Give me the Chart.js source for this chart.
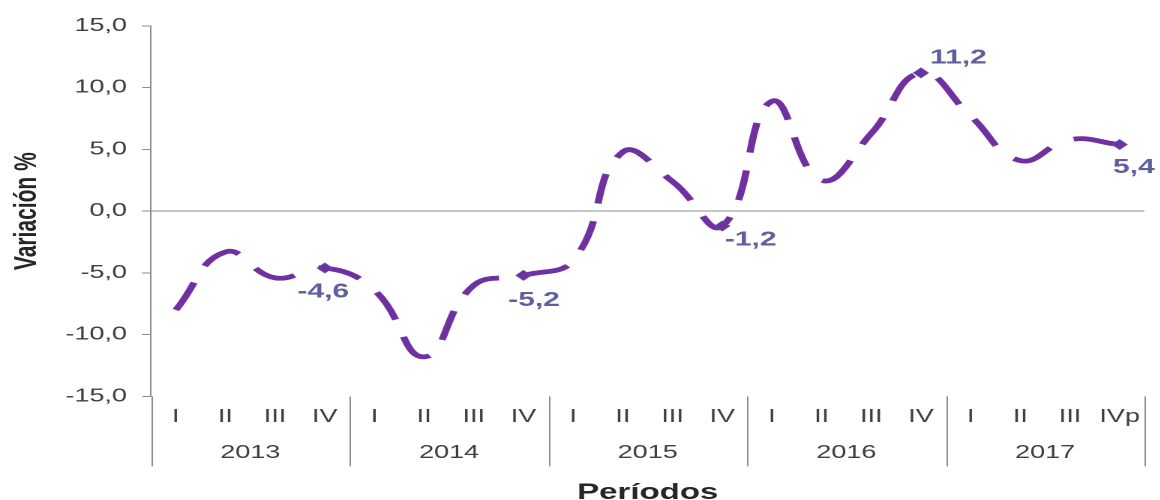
<!DOCTYPE html>
<html>
<head>
<meta charset="utf-8">
<script src="https://cdn.jsdelivr.net/npm/chart.js@4.4.1/dist/chart.umd.min.js"></script>
<style>
  html, body { margin: 0; padding: 0; background: #ffffff; overflow: hidden; }
  #wrap { width: 773px; height: 500px; transform: scaleX(1.5); transform-origin: 0 0; }
</style>
</head>
<body>
<div id="wrap"><canvas id="c" width="773" height="500"></canvas></div>
<script>
// ---- data ----
const quarters = ['I','II','III','IV','I','II','III','IV','I','II','III','IV','I','II','III','IV','I','II','III','IVp'];
const years = ['2013','2014','2015','2016','2017'];
const variation = [-8.0, -3.3, -5.4, -4.6, -6.4, -11.8, -6.0, -5.2, -4.0, 4.8, 2.4, -1.2, 8.9, 2.5, 6.3, 11.2, 7.7, 4.1, 5.8, 5.4];
const yTicks = [-15, -10, -5, 0, 5, 10, 15];

const fmt = v => v.toFixed(1).replace('.', ',');
const isLabeled = i => quarters[i].startsWith('IV');

const LINE = '#7030A0';
const LABEL = '#5F5F9B';
const TEXT = '#404040';
const AXIS = '#8c8c8c';

const labelOffsets = [[-1, 24], [7, 25], [19, 14], [25, -15], [9.5, 23]];

const yearSeparators = {
  id: 'yearSeparators',
  afterDraw(chart) {
    const x = chart.scales.x;
    const area = chart.chartArea;
    const ctx = chart.ctx;
    ctx.save();
    ctx.strokeStyle = AXIS;
    ctx.lineWidth = 1;
    for (let k = 0; k <= years.length; k++) {
      const px = Math.round(x.getPixelForValue(4 * k - 0.5)) + 0.5;
      ctx.beginPath();
      ctx.moveTo(px, area.bottom);
      ctx.lineTo(px, area.bottom + 70);
      ctx.stroke();
    }
    ctx.restore();
  }
};

const pointLabels = {
  id: 'pointLabels',
  afterDatasetsDraw(chart) {
    const meta = chart.getDatasetMeta(0);
    const ctx = chart.ctx;
    ctx.save();
    ctx.font = 'bold 20px "Liberation Sans", Arial, sans-serif';
    ctx.fillStyle = LABEL;
    ctx.textAlign = 'center';
    ctx.textBaseline = 'middle';
    let n = 0;
    meta.data.forEach((pt, i) => {
      if (!isLabeled(i)) return;
      const off = labelOffsets[n++] || [0, 20];
      ctx.fillText(fmt(variation[i]), pt.x + off[0], pt.y + off[1]);
    });
    ctx.restore();
  }
};

new Chart(document.getElementById('c'), {
  type: 'line',
  data: {
    labels: quarters,
    datasets: [{
      data: variation,
      borderColor: LINE,
      borderWidth: 4.8,
      borderDash: [30, 18],
      borderCapStyle: 'butt',
      tension: 0.45,
      fill: false,
      pointStyle: 'rectRot',
      pointRadius: ctx => isLabeled(ctx.dataIndex) ? 4.8 : 0,
      pointBackgroundColor: LINE,
      pointBorderColor: '#5a4aa8',
      pointBorderWidth: 1
    }]
  },
  plugins: [yearSeparators, pointLabels],
  options: {
    responsive: false,
    devicePixelRatio: 2,
    animation: false,
    layout: { padding: { left: 5.4, right: 10, top: 26, bottom: -6 } },
    plugins: { legend: { display: false }, tooltip: { enabled: false } },
    scales: {
      y: {
        min: -15, max: 15,
        afterBuildTicks: s => { s.ticks = yTicks.map(v => ({ value: v })); },
        ticks: {
          callback: v => fmt(v),
          font: { family: '"Liberation Sans", Arial, sans-serif', size: 18 },
          color: TEXT,
          padding: 10
        },
        grid: {
          color: c => (c.tick && c.tick.value === 0) ? AXIS : 'rgba(0,0,0,0)',
          tickColor: AXIS,
          tickLength: 6,
          lineWidth: 1
        },
        border: { display: true, color: AXIS, width: 1 },
        title: {
          display: true,
          text: 'Variación %',
          font: { family: '"Liberation Sans", Arial, sans-serif', size: 21, weight: 'bold' },
          color: '#262626',
          padding: { top: 0, bottom: 3 }
        }
      },
      x: {
        offset: true,
        grid: { display: false },
        border: { display: false },
        ticks: {
          font: { family: '"Liberation Sans", Arial, sans-serif', size: 18 },
          color: TEXT,
          padding: 2,
          maxRotation: 0,
          autoSkip: false
        }
      },
      x2: {
        type: 'category',
        position: 'bottom',
        labels: years,
        offset: true,
        grid: { display: false },
        border: { display: false },
        ticks: {
          font: { family: '"Liberation Sans", Arial, sans-serif', size: 18 },
          color: TEXT,
          padding: 4,
          maxRotation: 0,
          autoSkip: false
        },
        title: {
          display: true,
          text: 'Períodos',
          font: { family: '"Liberation Sans Narrow", "Liberation Sans", Arial, sans-serif', size: 22, weight: 'bold' },
          color: '#262626',
          padding: { top: 12, bottom: 0 }
        }
      }
    }
  }
});
</script>
</body>
</html>
